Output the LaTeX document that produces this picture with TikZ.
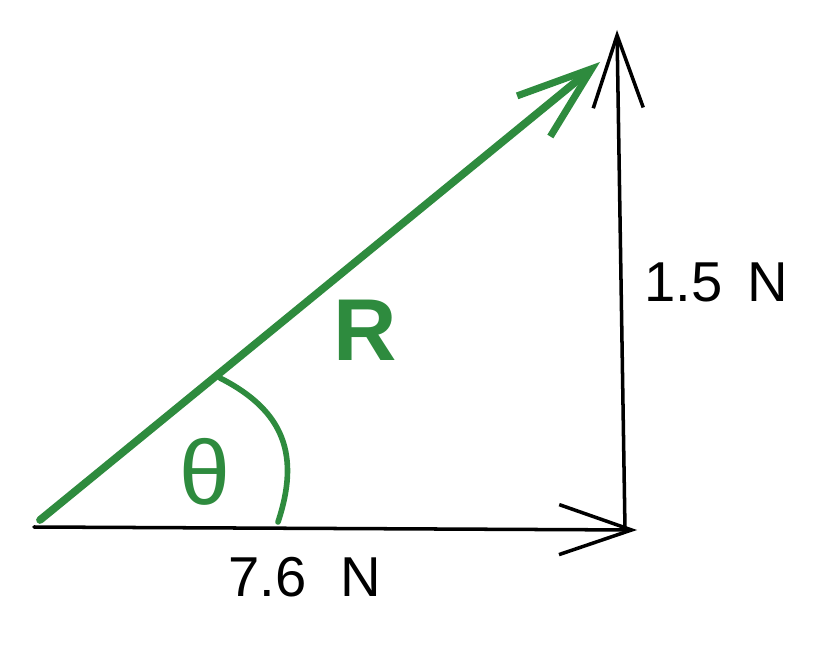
\documentclass[tikz,border=0pt]{standalone}
\usepackage{fontspec}
\setmainfont{Liberation Sans}
\usetikzlibrary{arrows.meta, positioning}
\definecolor{resgreen}{RGB}{46,139,62}
\tikzset{
    base/.style={text centered, font=\fontsize{32}{38}\selectfont},
    force/.style={line width=2pt, draw=black, line cap=round,
        -{Straight Barb[length=1.45cm, width=1cm, line width=2pt]}},
    result/.style={line width=4.4pt, draw=resgreen, line cap=round,
        -{Straight Barb[length=1.5cm, width=1.05cm, line width=4pt]}},
    anglearc/.style={line width=3.2pt, draw=resgreen, line cap=round},
    forcelabel/.style={base, text=black},
    greenlabel/.style={base, text=resgreen}
}
\begin{document}
\begin{tikzpicture}[x=0.02cm, y=0.02cm]
    \useasboundingbox (0,0) rectangle (821,646);

    % corners of the triangle
    \coordinate (orig) at (34,119);
    \coordinate (hend) at (637,116);
    \coordinate (vbase) at (625,116);
    \coordinate (vtop) at (617,616);
    \coordinate (rstart) at (40,126);
    \coordinate (rend) at (600,584);

    % component forces
    \draw [force] (orig) -- (hend);
    \draw [force] (vbase) -- (vtop);

    % resultant
    \draw [result] (rstart) -- (rend);

    % angle
    \coordinate (arcA) at (278,124);
    \coordinate (arcB) at (220,268);
    \draw [anglearc] (arcA) .. controls (300,190) and (285,235) .. (arcB);

    % labels
    \node (horiz) [forcelabel] at (305,69) {7.6\,\, N};
    \node (vert) [forcelabel] at (716,364) {1.5\, N};
    \node (rlab) [greenlabel, font=\fontsize{50}{56}\selectfont\bfseries] at (365,316) {R};
    \node (theta) [greenlabel, font=\fontsize{52}{60}\selectfont] at (205,174) {θ};
\end{tikzpicture}
\end{document}
